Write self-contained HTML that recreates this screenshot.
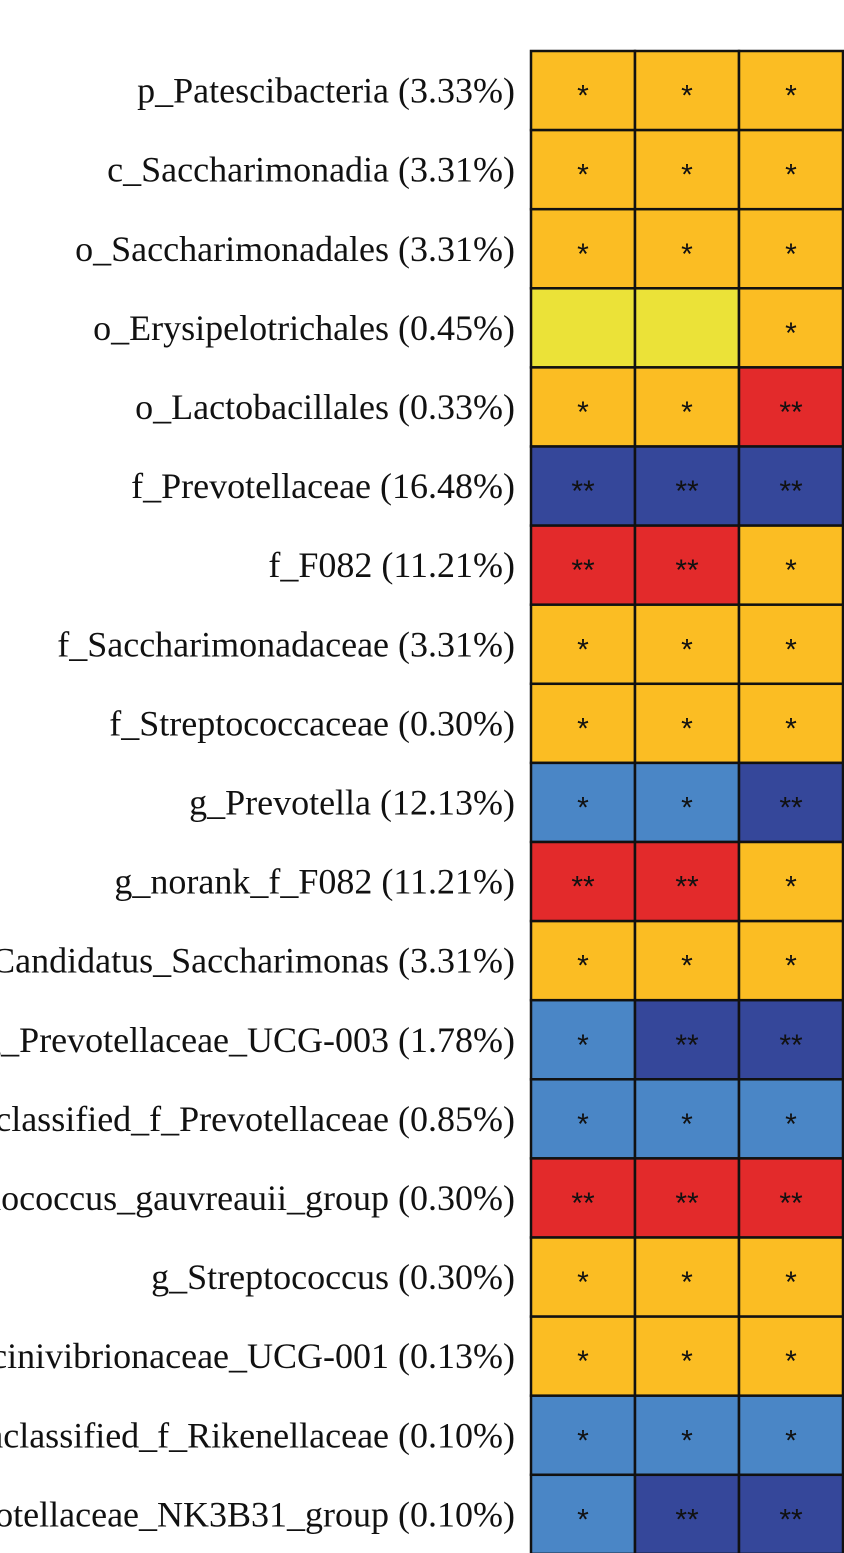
<!DOCTYPE html>
<html><head><meta charset="utf-8"><style>
html,body{margin:0;padding:0;background:#fff;width:844px;height:1553px;overflow:hidden}
svg{display:block}
</style></head><body>
<svg id="chart" width="844" height="1553" xmlns="http://www.w3.org/2000/svg"></svg>
<script>
const rowLabels = ["p_Patescibacteria (3.33%)","c_Saccharimonadia (3.31%)","o_Saccharimonadales (3.31%)","o_Erysipelotrichales (0.45%)","o_Lactobacillales (0.33%)","f_Prevotellaceae (16.48%)","f_F082 (11.21%)","f_Saccharimonadaceae (3.31%)","f_Streptococcaceae (0.30%)","g_Prevotella (12.13%)","g_norank_f_F082 (11.21%)","g_Candidatus_Saccharimonas (3.31%)","g_Prevotellaceae_UCG-003 (1.78%)","g_unclassified_f_Prevotellaceae (0.85%)","g_Ruminococcus_gauvreauii_group (0.30%)","g_Streptococcus (0.30%)","g_Succinivibrionaceae_UCG-001 (0.13%)","g_unclassified_f_Rikenellaceae (0.10%)","g_Prevotellaceae_NK3B31_group (0.10%)"];
// level: -2 dark blue, -1 light blue, 0 yellow, 1 orange, 2 red
const levels = [
[1,1,1],[1,1,1],[1,1,1],[0,0,1],[1,1,2],[-2,-2,-2],[2,2,1],[1,1,1],[1,1,1],
[-1,-1,-2],[2,2,1],[1,1,1],[-1,-2,-2],[-1,-1,-1],[2,2,2],[1,1,1],[1,1,1],[-1,-1,-1],[-1,-2,-2]];
const stars = [
["*","*","*"],["*","*","*"],["*","*","*"],["","","*"],["*","*","**"],["**","**","**"],["**","**","*"],["*","*","*"],["*","*","*"],
["*","*","**"],["**","**","*"],["*","*","*"],["*","**","**"],["*","*","*"],["**","**","**"],["*","*","*"],["*","*","*"],["*","*","*"],["*","**","**"]];
const palette = {"-2":"#35479a","-1":"#4a86c6","0":"#ebe238","1":"#fbbd23","2":"#e32a2b"};
const NS="http://www.w3.org/2000/svg";
const svg=document.getElementById('chart');
const x0=531, colW=104, y0=51, rowH=79.1;
const xs=j=>x0+j*colW, ys=i=>y0+i*rowH;
rowLabels.forEach((lab,i)=>{
  const t=document.createElementNS(NS,'text');
  
  
  t.setAttribute('x',515);t.setAttribute('y',ys(i)+rowH/2+12);
  t.setAttribute('text-anchor','end');
  t.setAttribute('font-family','"Liberation Serif", serif');
  t.setAttribute('font-size','36');t.setAttribute('fill','#111');
  t.textContent=lab;svg.appendChild(t);
  levels[i].forEach((v,j)=>{
    const r=document.createElementNS(NS,'rect');
    
    
    r.setAttribute('x',xs(j));r.setAttribute('y',ys(i));
    r.setAttribute('width',colW);r.setAttribute('height',rowH);
    r.setAttribute('fill',palette[v]);r.setAttribute('stroke','#111');r.setAttribute('stroke-width','2.5');
    svg.appendChild(r);
    if(stars[i][j]){
      const s=document.createElementNS(NS,'text');
      
      
      s.setAttribute('x',xs(j)+colW/2);s.setAttribute('y',ys(i)+rowH/2+15);
      s.setAttribute('text-anchor','middle');
      s.setAttribute('font-family','"Liberation Sans", sans-serif');
      s.setAttribute('font-size','30');s.setAttribute('fill','#111');
      s.textContent=stars[i][j];svg.appendChild(s);
    }
  });
});
</script>
</body></html>
